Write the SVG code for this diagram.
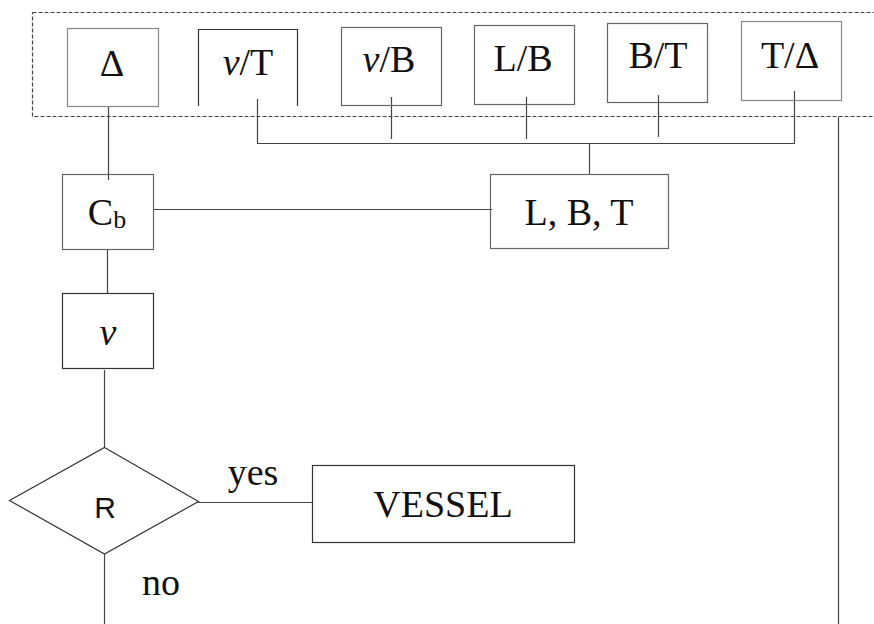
<svg xmlns="http://www.w3.org/2000/svg" width="874" height="624" viewBox="0 0 874 624">
  <style>
    .box { fill: #fff; stroke: #666; stroke-width: 1.2; }
    .dark { stroke: #333; }
    .wire { fill: none; stroke: #444; stroke-width: 1.2; }
    .frame { fill: none; stroke: #444; stroke-width: 1.2; stroke-dasharray: 4 2; }
    .lbl { font-family: "Liberation Serif", "Times New Roman", serif; font-size: 38px; fill: #111; text-anchor: middle; }
    .it { font-style: italic; }
    .sans { font-family: "Liberation Sans", Arial, sans-serif; font-size: 30px; fill: #111; text-anchor: middle; }
  </style>
  <rect width="874" height="624" fill="#fff"/>

  <!-- dashed parameter frame (runs off the right edge) -->
  <rect class="frame" x="32.5" y="12.5" width="860" height="104"/>

  <!-- connectors -->
  <g id="connectors">
    <line class="wire" x1="108.5" y1="106" x2="108.5" y2="180"/>
    <polyline class="wire" points="257.5,99 257.5,143.5 794.5,143.5 794.5,91"/>
    <line class="wire" x1="391.5" y1="97" x2="391.5" y2="139"/>
    <line class="wire" x1="526.5" y1="97" x2="526.5" y2="139"/>
    <line class="wire" x1="658.5" y1="95" x2="658.5" y2="137"/>
    <line class="wire" x1="589.5" y1="143.5" x2="589.5" y2="174"/>
    <line class="wire" x1="153" y1="209.5" x2="492" y2="209.5"/>
    <line class="wire" x1="107.5" y1="249" x2="107.5" y2="293"/>
    <line class="wire" x1="104.5" y1="370" x2="104.5" y2="448"/>
    <line class="wire" x1="198" y1="502.5" x2="312" y2="502.5"/>
    <line class="wire" x1="104.5" y1="554" x2="104.5" y2="624"/>
    <line class="wire" x1="838.5" y1="117" x2="838.5" y2="624"/>
  </g>

  <!-- parameter boxes -->
  <g id="n-delta">
    <rect class="box" x="67.5" y="28.5" width="91" height="78" style="stroke:#888"/>
    <text class="lbl" x="112" y="76">Δ</text>
  </g>
  <g id="n-vT">
    <path class="box dark" d="M198.5,106 V29.5 H297.5 V106" style="fill:none"/>
    <text class="lbl" x="248" y="75"><tspan class="it">v</tspan>/T</text>
  </g>
  <g id="n-vB">
    <rect class="box" x="341.5" y="27.5" width="100" height="78" style="fill:none"/>
    <text class="lbl" x="389" y="72"><tspan class="it">v</tspan>/B</text>
  </g>
  <g id="n-LB">
    <rect class="box" x="474.5" y="25.5" width="100" height="79" style="fill:none"/>
    <text class="lbl" x="523" y="71">L/B</text>
  </g>
  <g id="n-BT">
    <rect class="box" x="607.5" y="23.5" width="100" height="79" style="fill:none"/>
    <text class="lbl" x="658" y="68">B/T</text>
  </g>
  <g id="n-TD">
    <rect class="box" x="741.5" y="21.5" width="100" height="79" style="fill:none;stroke:#888"/>
    <text class="lbl" x="790" y="68">T/Δ</text>
  </g>

  <!-- main chain -->
  <g id="n-Cb">
    <rect class="box" x="62.5" y="174.5" width="91" height="75" style="fill:none"/>
    <text class="lbl" x="107" y="225">C<tspan font-size="26" dy="3">b</tspan></text>
  </g>
  <g id="n-LBT">
    <rect class="box" x="490.5" y="174.5" width="178" height="74" style="fill:none"/>
    <text class="lbl" x="579" y="225">L, B, T</text>
  </g>
  <g id="n-v">
    <rect class="box dark" x="62.5" y="293.5" width="91" height="75"/>
    <text class="lbl it" x="108" y="345">v</text>
  </g>
  <g id="n-R">
    <polygon class="box dark" points="104.5,447.5 198.5,501.5 104.5,554 9.5,500.5"/>
    <text class="sans" x="105" y="518">R</text>
  </g>
  <g id="n-vessel">
    <rect class="box dark" x="312.5" y="465.5" width="262" height="77"/>
    <text class="lbl" x="443" y="517">VESSEL</text>
  </g>

  <!-- branch labels -->
  <text class="lbl" x="253" y="485">yes</text>
  <text class="lbl" x="161" y="595">no</text>
</svg>
